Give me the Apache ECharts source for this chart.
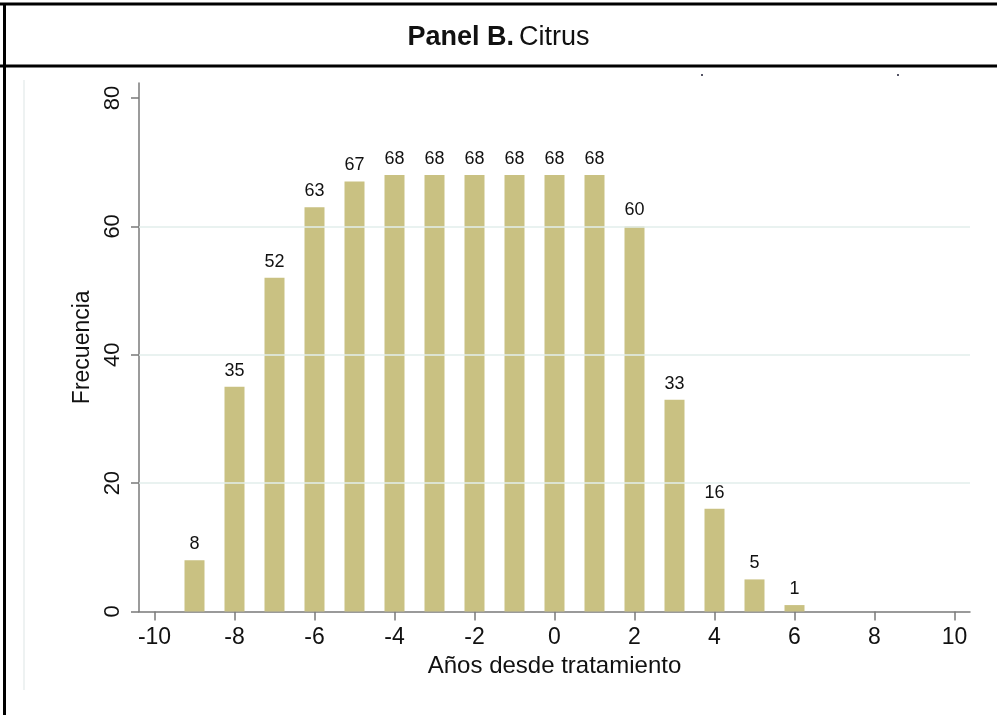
<!DOCTYPE html>
<html><head><meta charset="utf-8">
<script src="https://cdn.jsdelivr.net/npm/echarts@6/dist/echarts.min.js"></script>
<style>html,body{margin:0;padding:0;background:#fff}#c{width:997px;height:715px}</style>
</head><body><div id="c"></div>
<script>
const years = [-9,-8,-7,-6,-5,-4,-3,-2,-1,0,1,2,3,4,5,6];
const frequency = [8,35,52,63,67,68,68,68,68,68,68,60,33,16,5,1];
const xTicks = [-10,-8,-6,-4,-2,0,2,4,6,8,10];
const yTicks = [0,20,40,60,80];
const gridValues = [20,40,60];
const titleBold = 'Panel B.';
const titleRest = 'Citrus';
const xTitle = 'Años desde tratamiento';
const yTitle = 'Frecuencia';

const FONT = "'Liberation Sans', Arial, Helvetica, sans-serif";
const chart = echarts.init(document.getElementById('c'), null, {renderer:'canvas'});
chart.setOption({
  backgroundColor:'#fff',
  animation:false,
  textStyle:{fontFamily:FONT},
  title:{
    text:'{b|'+titleBold+'} {r|'+titleRest+'}',
    left:'center', top:19,
    textStyle:{rich:{
      b:{fontFamily:FONT,fontWeight:'bold',fontSize:27,color:'#111'},
      r:{fontFamily:FONT,fontWeight:'normal',fontSize:27,color:'#111'}
    }}
  },
  graphic:[
    {type:'line',shape:{x1:0,y1:4,x2:997,y2:4},style:{stroke:'#000',lineWidth:3},silent:true},
    {type:'line',shape:{x1:0,y1:66,x2:997,y2:66},style:{stroke:'#000',lineWidth:3},silent:true},
    {type:'line',shape:{x1:4.5,y1:3,x2:4.5,y2:715},style:{stroke:'#000',lineWidth:3},silent:true},
    {type:'line',shape:{x1:24,y1:80,x2:24,y2:690},style:{stroke:'#e9eeee',lineWidth:1.5},silent:true},
    {type:'rect',shape:{x:701,y:74,width:2,height:2},style:{fill:'#556'},silent:true},
    {type:'rect',shape:{x:897,y:74,width:2,height:2},style:{fill:'#556'},silent:true}
  ],
  grid:{left:139,right:27,top:83,bottom:103.5,containLabel:false},
  xAxis:{
    type:'value', min:-10.3875, max:10.3875,
    axisLine:{show:true,onZero:false,lineStyle:{color:'#7a7a7a',width:1.5}},
    axisTick:{show:true,customValues:xTicks,length:9,lineStyle:{color:'#7a7a7a',width:1.5}},
    axisLabel:{customValues:xTicks,fontSize:23,color:'#111',margin:15,fontFamily:FONT},
    splitLine:{show:false},
    name:xTitle, nameLocation:'middle', nameGap:38,
    nameTextStyle:{fontSize:24,color:'#111',fontFamily:FONT}
  },
  yAxis:{
    type:'value', min:0, max:82.34,
    axisLine:{show:true,onZero:false,lineStyle:{color:'#7a7a7a',width:1.5}},
    axisTick:{show:true,customValues:yTicks,length:8,lineStyle:{color:'#7a7a7a',width:1.5}},
    axisLabel:{customValues:yTicks,rotate:90,fontSize:22,color:'#111',margin:15,fontFamily:FONT},
    splitLine:{show:false},
    name:yTitle, nameLocation:'middle', nameGap:42,
    nameTextStyle:{fontSize:23,color:'#111',fontFamily:FONT}
  },
  series:[{
    type:'bar',
    data:years.map((x,i)=>[x,frequency[i]]),
    barWidth:20,
    itemStyle:{color:'#c9c182'},
    label:{show:true,position:'top',distance:7,fontSize:18,color:'#111',fontFamily:FONT},
    markLine:{
      silent:true, symbol:'none', label:{show:false},
      lineStyle:{color:'#e2eeeb',width:1.5,type:'solid'},
      data:gridValues.map(v=>({yAxis:v}))
    },
    z:3
  }]
});
</script></body></html>
